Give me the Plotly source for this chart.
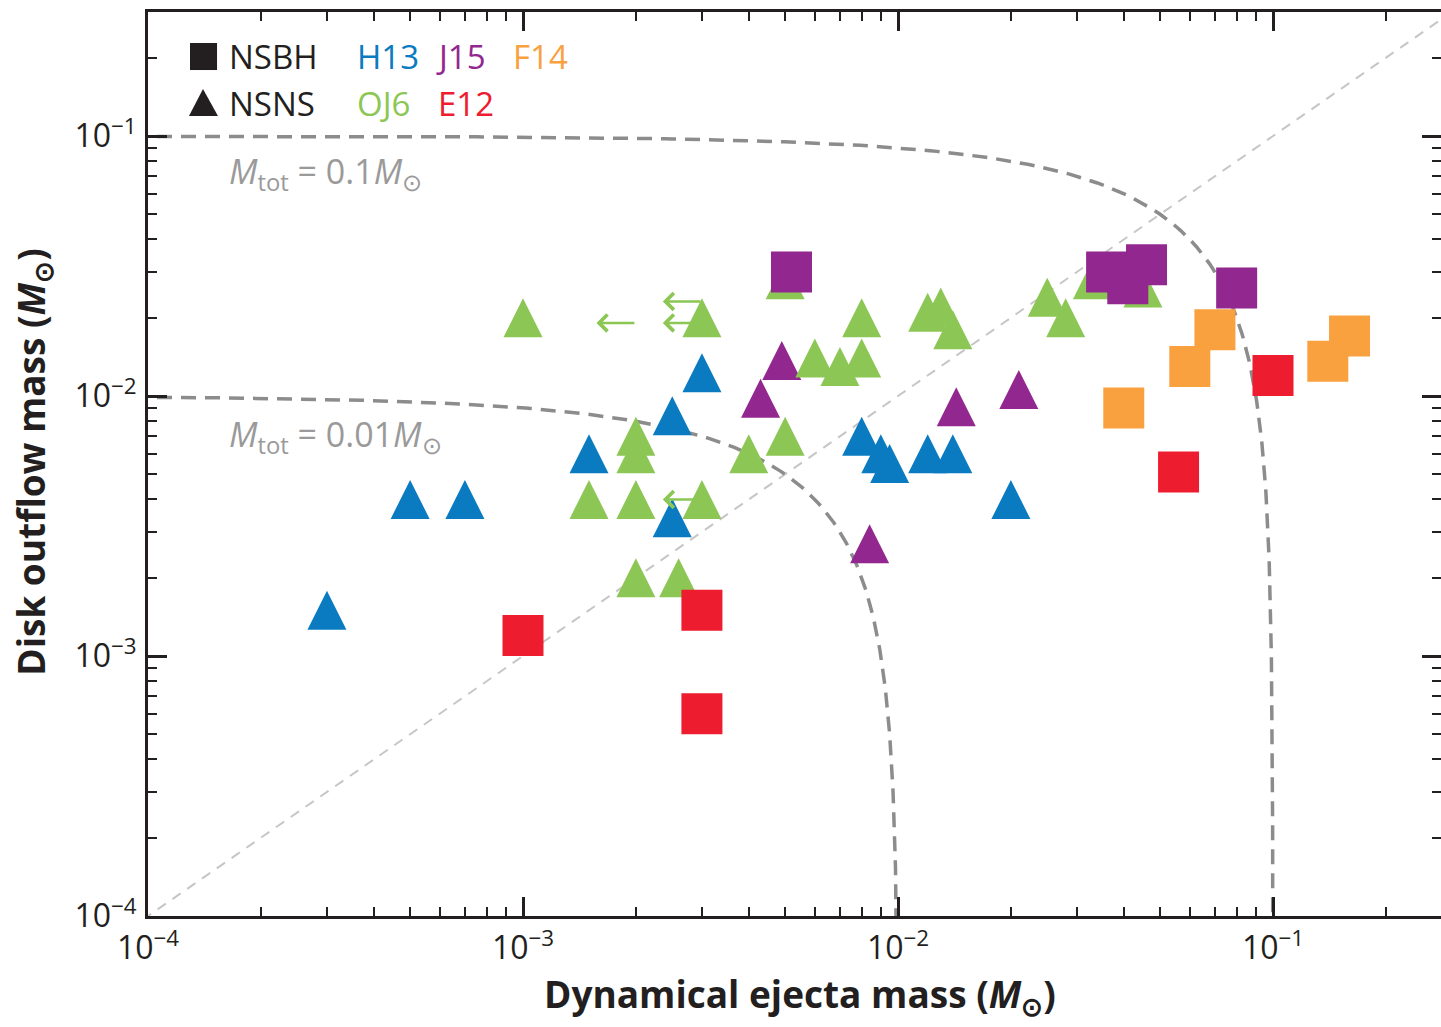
import numpy as np
import plotly.graph_objects as go

# ---- data: dynamical ejecta mass (x) vs disk outflow mass (y), in solar masses ----
# H13 (NSNS)
h13_x = [3e-4, 5e-4, 7e-4, 1.5e-3, 2.5e-3, 3e-3, 2.5e-3, 8e-3, 9e-3, 9.5e-3, 0.012, 0.014, 0.02]
h13_y = [1.5e-3, 4e-3, 4e-3, 6e-3, 8.4e-3, 0.0123, 3.4e-3, 7e-3, 6e-3, 5.5e-3, 6e-3, 6e-3, 4e-3]
# J15 (NSNS)
j15_tri_x = [4.9e-3, 4.3e-3, 0.0143, 0.021, 8.4e-3]
j15_tri_y = [0.0137, 9.8e-3, 9.1e-3, 0.0106, 2.7e-3]
# OJ6 (NSNS)
oj6_x = [1e-3, 3e-3, 2e-3, 2e-3, 1.5e-3, 2e-3, 3e-3, 2e-3, 2.6e-3, 4e-3, 5e-3, 6e-3,
         7e-3, 8e-3, 8e-3, 5e-3, 0.012, 0.013, 0.014, 0.025, 0.028, 0.033, 0.045]
oj6_y = [0.02, 0.02, 7e-3, 6e-3, 4e-3, 4e-3, 4e-3, 2e-3, 2e-3, 6e-3, 7e-3, 0.014,
         0.013, 0.014, 0.02, 0.028, 0.021, 0.022, 0.018, 0.024, 0.02, 0.028, 0.026]
# J15 (NSBH)
j15_sq_x = [5.2e-3, 0.036, 0.041, 0.046, 0.08]
j15_sq_y = [0.030, 0.030, 0.027, 0.032, 0.026]
# F14 (NSBH)
f14_x = [0.040, 0.060, 0.070, 0.14, 0.16]
f14_y = [9e-3, 0.013, 0.018, 0.0136, 0.017]
# E12 (NSBH)
e12_x = [1e-3, 3e-3, 3e-3, 0.056, 0.10]
e12_y = [1.2e-3, 1.5e-3, 6e-4, 5.1e-3, 0.012]

# OJ6 upper limits on the dynamical ejecta (arrow tail -> arrow tip)
ul_tail_x = [3e-3, 3e-3, 2e-3, 3e-3]
ul_tip_x = [2.36e-3, 2.36e-3, 1.57e-3, 2.36e-3]
ul_y = [0.0231, 0.0191, 0.0191, 4e-3]

# total-mass contours
m_tot_levels = [0.1, 0.01]

# axis ticks
tick_vals = [1e-4, 1e-3, 1e-2, 1e-1]
tick_text = ["10<sup>\u22124</sup>", "10<sup>\u22123</sup>", "10<sup>\u22122</sup>", "10<sup>\u22121</sup>"]

C_H13 = "#0a7bc1"
C_J15 = "#92278f"
C_F14 = "#f9a13f"
C_OJ6 = "#8cc654"
C_E12 = "#ed1c2e"
INK = "#231f20"
FONT = "Open Sans"

TRI = 39   # triangle marker size (px)
SQ = 41    # square marker size (px)

fig = go.Figure()

# y = x reference line
diag = np.array([1e-5, 1.0])
fig.add_trace(go.Scatter(x=diag, y=diag, mode="lines",
                         line=dict(color="#c6c6c6", width=2, dash="10px,8px"),
                         hoverinfo="skip", showlegend=False))

# M_dyn + M_disk = M_tot curves
for m in m_tot_levels:
    left = np.logspace(-5, np.log10(0.5 * m), 200)
    right = m - np.logspace(np.log10(0.5 * m), -6, 300)
    xs = np.concatenate([left, right])
    ys = m - xs
    fig.add_trace(go.Scatter(x=xs, y=ys, mode="lines",
                             line=dict(color="#8c8c8c", width=3.5, dash="15px,9px"),
                             hoverinfo="skip", showlegend=False))


def tri_trace(x, y, color):
    # upward triangle, centred on the data point
    return go.Scatter(x=x, y=y, mode="markers", showlegend=False,
                      marker=dict(symbol="arrow-down", angle=180, standoff=TRI / 2,
                                  size=TRI, color=color, line=dict(width=0)))


def sq_trace(x, y, color):
    return go.Scatter(x=x, y=y, mode="markers", showlegend=False,
                      marker=dict(symbol="square", size=SQ, color=color, line=dict(width=0)))


fig.add_trace(tri_trace(h13_x, h13_y, C_H13))
fig.add_trace(tri_trace(j15_tri_x, j15_tri_y, C_J15))
fig.add_trace(tri_trace(oj6_x, oj6_y, C_OJ6))
fig.add_trace(sq_trace(j15_sq_x, j15_sq_y, C_J15))
fig.add_trace(sq_trace(f14_x, f14_y, C_F14))
fig.add_trace(sq_trace(e12_x, e12_y, C_E12))

# upper-limit arrows
for tx, hx, yy in zip(ul_tail_x, ul_tip_x, ul_y):
    fig.add_annotation(x=np.log10(hx), y=np.log10(yy), ax=np.log10(tx), ay=np.log10(yy),
                       xref="x", yref="y", axref="x", ayref="y", text="",
                       showarrow=True, arrowhead=4, arrowsize=1.3, arrowwidth=2.5,
                       arrowcolor=C_OJ6)

# contour labels
label_font = dict(family=FONT, size=34, color="#9a9a9a")
fig.add_annotation(x=0.061, y=0.822, xref="paper", yref="paper", xanchor="left", yanchor="middle",
                   text="<i>M</i><sub>tot</sub> = 0.1<i>M</i><sub>\u2299</sub>", showarrow=False,
                   font=label_font)
fig.add_annotation(x=0.061, y=0.531, xref="paper", yref="paper", xanchor="left", yanchor="middle",
                   text="<i>M</i><sub>tot</sub> = 0.01<i>M</i><sub>\u2299</sub>", showarrow=False,
                   font=label_font)

# key: marker shapes
fig.add_shape(type="rect", xref="paper", yref="paper", x0=0.0325, x1=0.0534, y0=0.9358, y1=0.9657,
              fillcolor=INK, line=dict(width=0))
fig.add_shape(type="path", xref="paper", yref="paper",
              path="M 0.0317,0.8850 L 0.0541,0.8850 L 0.04254,0.9148 Z",
              fillcolor=INK, line=dict(width=0))

key_rows = [
    ("NSBH", 0.0610, 0.9513, INK),
    ("NSNS", 0.0610, 0.8993, INK),
    ("H13", 0.1600, 0.9513, C_H13),
    ("J15", 0.2210, 0.9513, C_J15),
    ("F14", 0.2805, 0.9513, C_F14),
    ("OJ6", 0.1600, 0.8993, C_OJ6),
    ("E12", 0.2225, 0.8993, C_E12),
]
for txt, kx, ky, col in key_rows:
    fig.add_annotation(x=kx, y=ky, xref="paper", yref="paper", xanchor="left", yanchor="middle",
                       text=txt, showarrow=False, font=dict(family=FONT, size=33, color=col))

# axis titles
title_font = dict(family=FONT, size=37, color=INK, weight="bold")
fig.add_annotation(x=0.5043, y=-0.1212, xref="paper", yref="paper", xanchor="center", yanchor="bottom",
                   text="Dynamical ejecta mass (<i>M</i><sub>\u2299</sub>)", showarrow=False,
                   font=title_font)
fig.add_annotation(x=-0.0885, y=0.502, xref="paper", yref="paper", xanchor="center", yanchor="middle",
                   textangle=-90,
                   text="Disk outflow mass (<i>M</i><sub>\u2299</sub>)", showarrow=False,
                   font=title_font)

axis_common = dict(
    type="log", showgrid=False, zeroline=False,
    showline=True, linecolor=INK, linewidth=3, mirror="ticks",
    ticks="inside", ticklen=19, tickwidth=2.5, tickcolor=INK,
    tickvals=tick_vals, ticktext=tick_text,
    tickfont=dict(family=FONT, size=32, color=INK),
    minor=dict(ticks="inside", ticklen=9, tickwidth=2, tickcolor=INK, dtick="D1", showgrid=False),
    automargin=False,
)

fig.update_xaxes(range=[-4, -0.552], ticklabelstandoff=2, **axis_common)
fig.update_yaxes(range=[-4, -0.523], ticklabelstandoff=2, **axis_common)

fig.update_layout(
    width=1441, height=1027,
    margin=dict(l=148, r=0, t=12, b=111),
    paper_bgcolor="white", plot_bgcolor="white",
    showlegend=False,
)

fig.write_html("out.html")
